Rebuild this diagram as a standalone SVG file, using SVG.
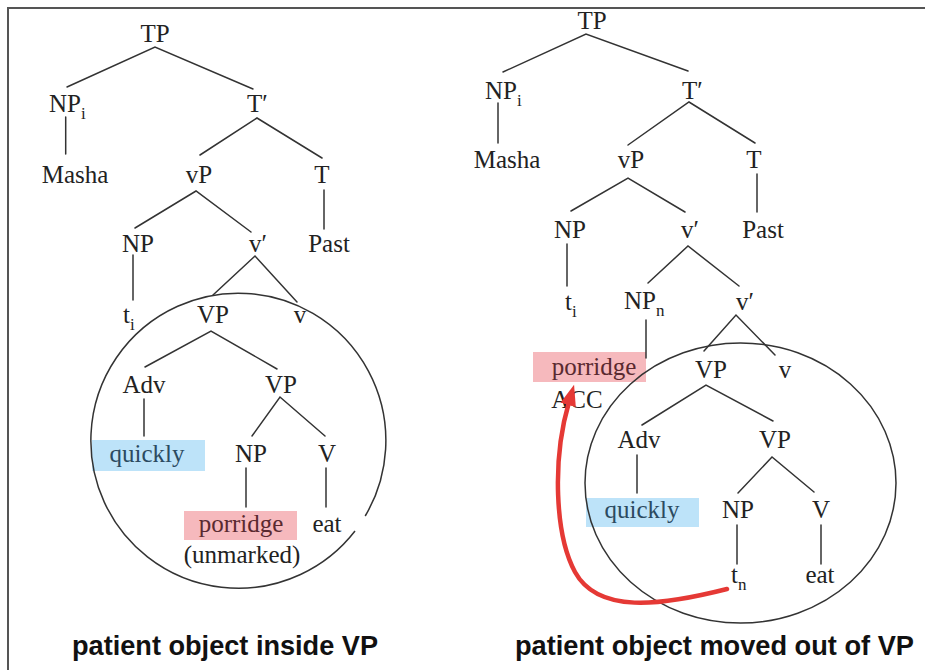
<svg xmlns="http://www.w3.org/2000/svg" width="925" height="670" viewBox="0 0 925 670">
  <style>
    .lbl { font-family: "Liberation Serif", "Times New Roman", serif; font-size: 25px; fill: #222; }
    .mid { text-anchor: middle; }
    .sub { font-size: 17px; }
    .edge { stroke: #333; stroke-width: 1.5; fill: none; stroke-linecap: round; }
    .ring { stroke: #333; stroke-width: 1.5; fill: none; }
    .cap { font-family: "Liberation Sans", Arial, sans-serif; font-weight: bold; font-size: 27px; fill: #111; }
    .hl-red { fill: #f6b9bd; }
    .hl-blue { fill: #bde3f9; }
    .t-red { fill: #5a2a30; }
    .t-blue { fill: #2b4a60; }
  </style>
  <defs>
    <marker id="arrowhead" markerUnits="userSpaceOnUse" markerWidth="22" markerHeight="16" refX="3" refY="8" orient="auto">
      <path d="M0,0 L21,8 L0,16 z" fill="#e53935"/>
    </marker>
  </defs>

  <rect width="925" height="670" fill="#fff"/>
  <!-- frame -->
  <path d="M8,670 V8 H925" stroke="#555" stroke-width="2" fill="none"/>

  <!-- highlights behind the words -->
  <g id="highlights">
    <rect class="hl-blue" x="92" y="440" width="113" height="31"/>
    <rect class="hl-red" x="184" y="511" width="113" height="29"/>
    <rect class="hl-red" x="533" y="352" width="113" height="30"/>
    <rect class="hl-blue" x="586" y="498" width="113" height="29"/>
  </g>

  <!-- branches -->
  <g id="connectors">
    <!-- left tree -->
    <path class="edge" d="M67,87 L155,47 L253,89"/>
    <path class="edge" d="M65.7,117 V154"/>
    <path class="edge" d="M200,155 L257,118 L322,158"/>
    <path class="edge" d="M324,190 V229"/>
    <path class="edge" d="M135,228 L196,191 L251,232"/>
    <path class="edge" d="M133,255 V300"/>
    <path class="edge" d="M213,295 L255,256 L297,302"/>
    <path class="edge" d="M145,367 L211,331 L277,369"/>
    <path class="edge" d="M144,399 V436"/>
    <path class="edge" d="M252,436 L280,397 L325,436"/>
    <path class="edge" d="M246,468 V507"/>
    <path class="edge" d="M326,468 V507"/>
    <!-- right tree -->
    <path class="edge" d="M503,72 L586,34 L688,71"/>
    <path class="edge" d="M498,103 V143"/>
    <path class="edge" d="M628,145 L689,102 L755,143"/>
    <path class="edge" d="M757,174 V212"/>
    <path class="edge" d="M571,211 L628,178 L685,212"/>
    <path class="edge" d="M567,244 V286"/>
    <path class="edge" d="M648,283 L688,246 L739,286"/>
    <path class="edge" d="M646,320 V358"/>
    <path class="edge" d="M704,351 L736,315 L775,355"/>
    <path class="edge" d="M642,425 L706,385 L773,421"/>
    <path class="edge" d="M637,455 V493"/>
    <path class="edge" d="M738,493 L772,457 L814,492"/>
    <path class="edge" d="M737,525 V564"/>
    <path class="edge" d="M821,525 V564"/>
  </g>

  <!-- left tree nodes -->
  <g id="left-TP"><text class="lbl mid" x="155" y="42">TP</text></g>
  <g id="left-NPi"><text class="lbl" x="49" y="112">NP<tspan class="sub" dy="7">i</tspan></text></g>
  <g id="left-Masha"><text class="lbl mid" x="75" y="183">Masha</text></g>
  <g id="left-Tbar"><text class="lbl" x="247" y="112">T′</text></g>
  <g id="left-vP"><text class="lbl mid" x="199" y="183">vP</text></g>
  <g id="left-T"><text class="lbl mid" x="322" y="183">T</text></g>
  <g id="left-Past"><text class="lbl mid" x="329" y="252">Past</text></g>
  <g id="left-NP"><text class="lbl mid" x="138" y="252">NP</text></g>
  <g id="left-vbar"><text class="lbl" x="249" y="252">v′</text></g>
  <g id="left-ti"><text class="lbl" x="123" y="323">t<tspan class="sub" dy="7">i</tspan></text></g>
  <g id="left-VP"><text class="lbl mid" x="213" y="323">VP</text></g>
  <g id="left-v"><text class="lbl mid" x="300" y="323">v</text></g>
  <g id="left-Adv"><text class="lbl mid" x="144" y="393">Adv</text></g>
  <g id="left-VP2"><text class="lbl mid" x="281" y="393">VP</text></g>
  <g id="left-quickly"><text class="lbl mid t-blue" x="147" y="462">quickly</text></g>
  <g id="left-NP2"><text class="lbl mid" x="251" y="462">NP</text></g>
  <g id="left-V"><text class="lbl mid" x="327" y="462">V</text></g>
  <g id="left-porridge"><text class="lbl mid t-red" x="241" y="532">porridge</text></g>
  <g id="left-eat"><text class="lbl mid" x="327" y="532">eat</text></g>
  <g id="left-unmarked"><text class="lbl mid" x="242" y="563">(unmarked)</text></g>

  <!-- right tree nodes -->
  <g id="right-TP"><text class="lbl mid" x="592" y="29">TP</text></g>
  <g id="right-NPi"><text class="lbl" x="485" y="99">NP<tspan class="sub" dy="7">i</tspan></text></g>
  <g id="right-Masha"><text class="lbl mid" x="507" y="168">Masha</text></g>
  <g id="right-Tbar"><text class="lbl" x="682" y="99">T′</text></g>
  <g id="right-vP"><text class="lbl mid" x="631" y="168">vP</text></g>
  <g id="right-T"><text class="lbl mid" x="754" y="168">T</text></g>
  <g id="right-Past"><text class="lbl mid" x="763" y="238">Past</text></g>
  <g id="right-NP"><text class="lbl mid" x="570" y="238">NP</text></g>
  <g id="right-vbar"><text class="lbl" x="681" y="238">v′</text></g>
  <g id="right-ti"><text class="lbl" x="565" y="310">t<tspan class="sub" dy="7">i</tspan></text></g>
  <g id="right-NPn"><text class="lbl" x="624" y="309">NP<tspan class="sub" dy="7">n</tspan></text></g>
  <g id="right-vbar2"><text class="lbl" x="736" y="310">v′</text></g>
  <g id="right-porridge"><text class="lbl mid t-red" x="594" y="375">porridge</text></g>
  <g id="right-ACC"><text class="lbl mid" x="577" y="408">ACC</text></g>
  <g id="right-VP"><text class="lbl mid" x="711" y="378">VP</text></g>
  <g id="right-v"><text class="lbl mid" x="785" y="378">v</text></g>
  <g id="right-Adv"><text class="lbl mid" x="639" y="448">Adv</text></g>
  <g id="right-VP2"><text class="lbl mid" x="775" y="448">VP</text></g>
  <g id="right-quickly"><text class="lbl mid t-blue" x="642" y="518">quickly</text></g>
  <g id="right-NP2"><text class="lbl mid" x="738" y="518">NP</text></g>
  <g id="right-V"><text class="lbl mid" x="821" y="518">V</text></g>
  <g id="right-tn"><text class="lbl" x="731" y="583">t<tspan class="sub" dy="7">n</tspan></text></g>
  <g id="right-eat"><text class="lbl mid" x="820" y="583">eat</text></g>

  <!-- VP enclosures -->
  <g id="left-enclosure">
    <path class="ring" d="M355,531 A147.5,147.5 0 1 1 365.2,516"/>
  </g>
  <g id="right-enclosure">
    <ellipse class="ring" cx="740.5" cy="483" rx="155.5" ry="140"/>
  </g>

  <!-- movement arrow -->
  <g id="movement">
    <path d="M727,589 C660,606 598,614 575,572 C555,535 552,460 569,402" stroke="#e53935" stroke-width="4.5" fill="none" stroke-linecap="round" marker-end="url(#arrowhead)"/>
  </g>

  <!-- captions -->
  <g id="captions">
    <text class="cap" x="72" y="655" textLength="306" lengthAdjust="spacingAndGlyphs">patient object inside VP</text>
    <text class="cap" x="515" y="655" textLength="399" lengthAdjust="spacingAndGlyphs">patient object moved out of VP</text>
  </g>
</svg>
